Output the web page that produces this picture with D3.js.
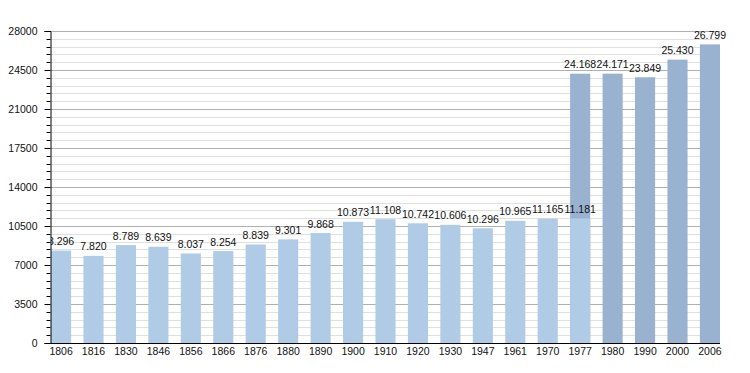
<!DOCTYPE html>
<html><head><meta charset="utf-8">
<script src="https://cdn.jsdelivr.net/npm/d3@7"></script>
<style>
html,body{margin:0;padding:0;background:#fff;}
svg text{font-family:"Liberation Sans",Arial,sans-serif;fill:#111;}
</style></head>
<body>
<svg id="chart" width="750" height="373"></svg>
<script>
const years = ["1806","1816","1830","1846","1856","1866","1876","1880","1890","1900","1910","1920","1930","1947","1961","1970","1977","1980","1990","2000","2006"];
const lightValues = [8296,7820,8789,8639,8037,8254,8839,9301,9868,10873,11108,10742,10606,10296,10965,11165,11181,null,null,null,null];
const darkValues = [null,null,null,null,null,null,null,null,null,null,null,null,null,null,null,null,24168,24171,23849,25430,26799];
const yTicks = [0,3500,7000,10500,14000,17500,21000,24500,28000];
const yMinorStep = 700;

(function () {
const svg = d3.select("#chart");
const mLeft = 50.5, mRight = 720, mTop = 31, mBottom = 343;
const x = d3.scaleBand().domain(years).range([51, 720]).paddingInner(0.38).paddingOuter(0);
const y = d3.scaleLinear().domain([0, 28000]).range([mBottom, mTop]);
const fmt = d3.formatLocale({decimal: ",", thousands: ".", grouping: [3], currency: ["", ""]}).format(",d");

const minor = d3.range(0, 28000 + 1, yMinorStep).filter(v => !yTicks.includes(v));
svg.append("g").selectAll("line").data(minor).join("line")
  .attr("x1", mLeft).attr("x2", mRight)
  .attr("y1", d => Math.round(y(d)) + 0.5).attr("y2", d => Math.round(y(d)) + 0.5)
  .attr("stroke", "#e0e0e0").attr("stroke-width", 1);
svg.append("g").selectAll("line").data(yTicks.filter(v => v > 0)).join("line")
  .attr("x1", mLeft).attr("x2", mRight)
  .attr("y1", d => Math.round(y(d)) + 0.5).attr("y2", d => Math.round(y(d)) + 0.5)
  .attr("stroke", "#b0b0b0").attr("stroke-width", 1);

const darkData = years.map((yr, i) => ({yr, v: darkValues[i]})).filter(d => d.v != null);
const lightData = years.map((yr, i) => ({yr, v: lightValues[i]})).filter(d => d.v != null);
svg.append("g").selectAll("rect").data(darkData).join("rect")
  .attr("x", d => x(d.yr)).attr("width", x.bandwidth())
  .attr("y", d => y(d.v)).attr("height", d => y(0) - y(d.v))
  .attr("fill", "#98b2cf");
svg.append("g").selectAll("rect").data(lightData).join("rect")
  .attr("x", d => x(d.yr)).attr("width", x.bandwidth())
  .attr("y", d => y(d.v)).attr("height", d => y(0) - y(d.v))
  .attr("fill", "#b0cbe6");

const yAxis = d3.axisLeft(y).tickValues(yTicks).tickSize(6).tickPadding(7).tickFormat(d3.format("d"));
const gy = svg.append("g").attr("transform", `translate(${mLeft},0)`).call(yAxis);
gy.select(".domain").attr("stroke", "#000");
gy.selectAll(".tick line").attr("stroke", "#000");
gy.selectAll(".tick text").attr("font-size", "10.5px").attr("fill", "#111").style("font-family", "Liberation Sans, Arial, sans-serif");
svg.append("g").selectAll("line").data(minor).join("line")
  .attr("x1", mLeft - 4).attr("x2", mLeft)
  .attr("y1", d => Math.round(y(d)) + 0.5).attr("y2", d => Math.round(y(d)) + 0.5)
  .attr("stroke", "#000");

const xAxis = d3.axisBottom(x).tickSize(0).tickPadding(5);
const gx = svg.append("g").attr("transform", `translate(0,${mBottom})`).call(xAxis);
gx.select(".domain").attr("stroke", "#000").attr("d", `M${mLeft},0.5H${mRight}`);
gx.selectAll(".tick text").attr("font-size", "10.5px").attr("fill", "#111").style("font-family", "Liberation Sans, Arial, sans-serif");

svg.append("defs").append("clipPath").attr("id", "clip").append("rect")
  .attr("x", 51).attr("y", 0).attr("width", 700).attr("height", 373);
const lg = svg.append("g").attr("clip-path", "url(#clip)");
const allLabels = lightData.concat(darkData);
lg.selectAll("text").data(allLabels).join("text")
  .attr("x", d => x(d.yr) + x.bandwidth() / 2)
  .attr("y", d => y(d.v) - 5.5)
  .attr("text-anchor", "middle").attr("font-size", "10.5px")
  .text(d => fmt(d.v));
})();
</script>
</body></html>
